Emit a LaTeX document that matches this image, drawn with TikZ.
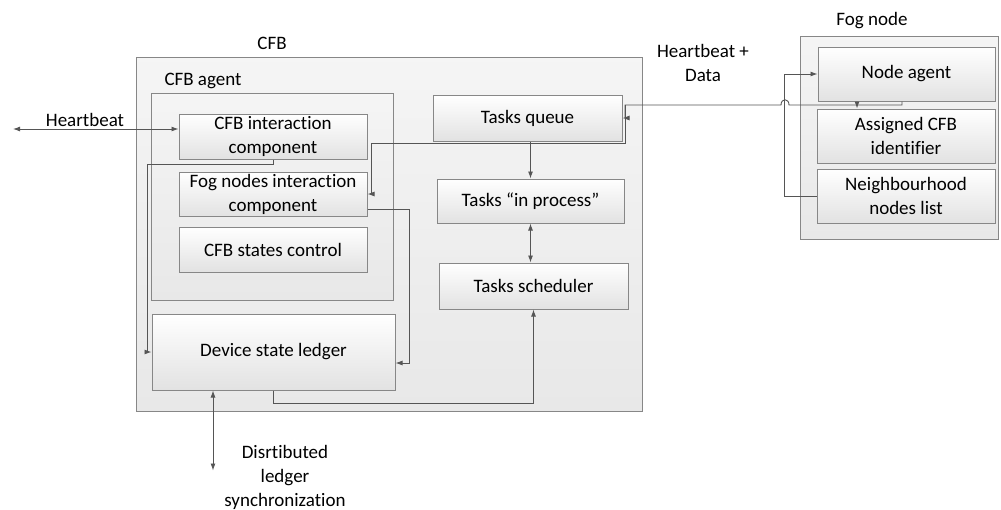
\documentclass[tikz,border=0pt]{standalone}
\usepackage{fontspec}
\setmainfont{Carlito}[Ligatures={NoCommon,NoDiscretionary,NoContextual}]
\usetikzlibrary{arrows.meta}
\definecolor{boxline}{RGB}{135,135,135}
\definecolor{wireline}{RGB}{85,85,85}
\definecolor{boxshade}{RGB}{226,226,226}
\definecolor{panelshade}{RGB}{232,232,232}

\begin{document}
\begin{tikzpicture}[x=1pt, y=-1pt,
    every node/.style={font=\fontsize{19}{24}\selectfont, align=center, inner sep=0pt},
    panel/.style={draw=boxline, line width=1pt, top color=panelshade!45, bottom color=panelshade},
    part/.style={draw=boxline, line width=1pt, top color=white, bottom color=boxshade},
    wire/.style={draw=wireline, line width=0.9pt, -{Latex[length=7pt,width=5pt]}},
    twoway/.style={wire, {Latex[length=7pt,width=5pt]}-{Latex[length=7pt,width=5pt]}}]
    \useasboundingbox (0,0) rectangle (1001,509);

    % containers
    \node[panel, minimum width=506pt, minimum height=354pt] (cfb) at (389,234) {};
    \node (cfblabel) at (272,43) {CFB};
    \node[panel, minimum width=242pt, minimum height=207pt] (agent) at (272,196.5) {};
    \node (agentlabel) at (203,81) {CFB agent};
    \node[panel, minimum width=198pt, minimum height=203pt] (fog) at (899,137.5) {};
    \node (foglabel) at (872,21) {Fog node};

    % CFB agent parts
    \node[part, minimum width=188pt, minimum height=45pt] (cfbint) at (273,136.5) {CFB interaction\\component};
    \node[part, minimum width=188pt, minimum height=44pt] (fogint) at (273,194) {Fog nodes interaction\\component};
    \node[part, minimum width=188pt, minimum height=45pt] (states) at (273,249.5) {CFB states control};
    \node[part, minimum width=243pt, minimum height=76pt] (ledger) at (273.5,352) {Device state ledger};

    % task handling
    \node[part, minimum width=189pt, minimum height=46pt] (queue) at (527.5,118) {Tasks queue};
    \node[part, minimum width=187pt, minimum height=44pt] (inproc) at (530.5,201) {Tasks ``in process''};
    \node[part, minimum width=189pt, minimum height=46pt] (sched) at (533.5,286) {Tasks scheduler};

    % fog node parts
    \node[part, minimum width=177pt, minimum height=54pt] (nagent) at (906.5,74) {Node agent};
    \node[part, minimum width=178pt, minimum height=54pt] (assigned) at (906,136) {Assigned CFB\\identifier};
    \node[part, minimum width=178pt, minimum height=54pt] (neigh) at (906,196) {Neighbourhood\\nodes list};

    % free labels
    \node (hblabel) at (85,120) {Heartbeat};
    \node (hbdlabel) at (703,63) {Heartbeat +\\Data};
    \node (synclabel) at (285,477) {Disrtibuted\\ledger\\synchronization};

    \coordinate (hbend) at (13,129);
    \coordinate (bus) at (625,105);
    \coordinate (turn) at (371,143);
    \coordinate (drop) at (857,105);

    % connectors
    \draw[twoway] (hbend) -- (hbend -| cfbint.west);
    \draw[wire] (cfbint.south) -- ++(0,5) -- ++(-126,0) |- (ledger.west);
    \draw[wire] ([yshift=-15pt]fogint.east) -- ++(42,0) |- ([yshift=-11pt]ledger.east);
    \draw[wire] ([xshift=-4.5pt]nagent.south) |- (789,105)
        .. controls (789,98) and (781,98) .. (781,105) -- (bus) |- (queue.east);
    \draw[wire] (bus) |- (turn) |- (fogint.east);
    \draw[wire] (drop) -- (drop |- assigned.north);
    \draw[wire] (neigh.west) -- ++(-32,0) |- (nagent.west);
    \draw[wire] (inproc.north |- queue.south) -- (inproc.north);
    \draw[twoway] (inproc.south) -- (inproc.south |- sched.north);
    \draw[wire] (ledger.south) -- ++(0,13) -| (sched.south);
    \draw[twoway] ([xshift=-60.5pt]ledger.south) -- ++(0,80);
\end{tikzpicture}
\end{document}
